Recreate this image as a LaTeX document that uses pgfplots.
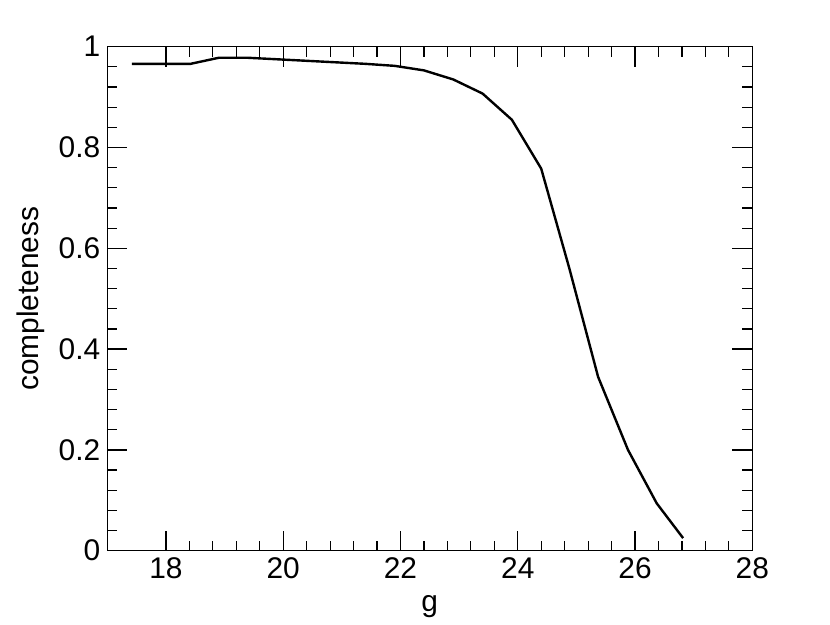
\documentclass[border=0pt]{standalone}
\usepackage{fontspec}
\setmainfont{Liberation Sans}
\usepackage{pgfplots}
\pgfplotsset{compat=1.18}
\begin{document}
\begin{tikzpicture}
\useasboundingbox (-53.65bp,-37.15bp) rectangle (361.35bp,275.35bp);
\begin{axis}[
    at={(0,0)}, anchor=south west,
    scale only axis,
    width=322.5bp, height=252bp,
    xmin=17, xmax=28, ymin=0, ymax=1,
    xtick={18,20,22,24,26,28},
    ytick={0,0.2,0.4,0.6,0.8,1},
    minor x tick num=4, minor y tick num=4,
    major tick length=10bp, minor tick length=5bp,
    tick style={black, line width=0.6bp},
    axis line style={line width=0.7bp},
    xlabel={g}, ylabel={completeness},
    ticklabel style={font=\fontsize{15}{18}\selectfont},
    label style={font=\fontsize{15}{18}\selectfont},
    xlabel style={yshift=-1.5bp},
    /pgf/number format/assume math mode=true,
]
\addplot [black, line width=1.2bp] coordinates {
    (17.42,0.966)
    (17.92,0.966)
    (18.42,0.966)
    (18.90,0.978)
    (19.40,0.978)
    (19.90,0.975)
    (20.40,0.972)
    (20.90,0.969)
    (21.40,0.966)
    (21.90,0.962)
    (22.40,0.953)
    (22.90,0.935)
    (23.40,0.907)
    (23.90,0.855)
    (24.40,0.758)
    (24.88,0.560)
    (25.37,0.345)
    (25.88,0.200)
    (26.37,0.094)
    (26.82,0.025)
};
\end{axis}
\end{tikzpicture}
\end{document}
